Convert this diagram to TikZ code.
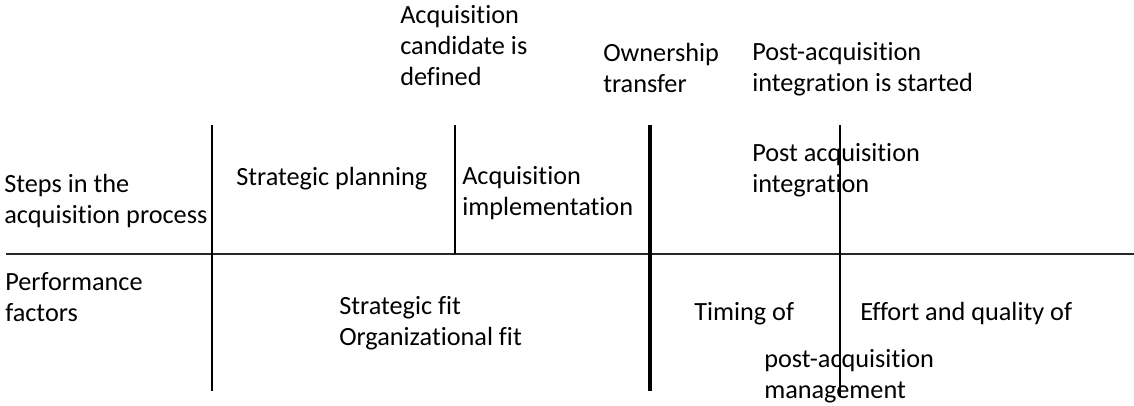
\documentclass[tikz,border=0pt]{standalone}
\usepackage{fontspec}
\setmainfont{Carlito}[Ligatures={NoCommon}]
\begin{document}
\begin{tikzpicture}[x=0.75pt,y=-0.75pt,
  % multi-line labels are placed by the baseline of their last line
  lbl/.style={anchor=base west, inner sep=0pt, align=left,
              font=\fontsize{19.7}{22.9}\selectfont},
  thinrule/.style={line width=1pt},
  midrule/.style={line width=1.5pt, black!85},
  heavyrule/.style={line width=3.4pt}]
\useasboundingbox (0,0) rectangle (1134,405);

% grid of the process table
\coordinate (h0) at (6,254);   \coordinate (h1) at (1134,254);
\coordinate (a0) at (212,125); \coordinate (a1) at (212,391);
\coordinate (b0) at (455,125); \coordinate (b1) at (455,254);
\coordinate (c0) at (650,125); \coordinate (c1) at (650,391);
\coordinate (d0) at (840,125); \coordinate (d1) at (840,397);

\draw[midrule] (h0) -- (h1);
\draw[thinrule] (a0) -- (a1);
\draw[thinrule] (b0) -- (b1);
\draw[heavyrule] (c0) -- (c1);
\draw[thinrule] (d0) -- (d1);

% milestones above the table
\node[lbl] (cand) at (400,85) {Acquisition\\candidate is\\defined};
\node[lbl] (own) at (603,92) {Ownership\\transfer};
\node[lbl] (start) at (752,91) {Post-acquisition\\integration is started};

% upper row: process steps
\node[lbl] (steps) at (4,223) {Steps in the\\acquisition process};
\node[lbl] (plan) at (236,185) {Strategic planning};
\node[lbl] (impl) at (462,215) {Acquisition\\implementation};
\node[lbl] (integ) at (752,192) {Post acquisition\\integration};

% lower row: performance factors
\node[lbl] (perf) at (5,321) {Performance\\factors};
\node[lbl] (fit) at (339,345) {Strategic fit\\Organizational fit};
\node[lbl] (timing) at (694,320) {Timing of};
\node[lbl] (effort) at (860,320) {Effort and quality of};
\node[lbl] (mgmt) at (764,398) {post-acquisition\\management};
\end{tikzpicture}
\end{document}
